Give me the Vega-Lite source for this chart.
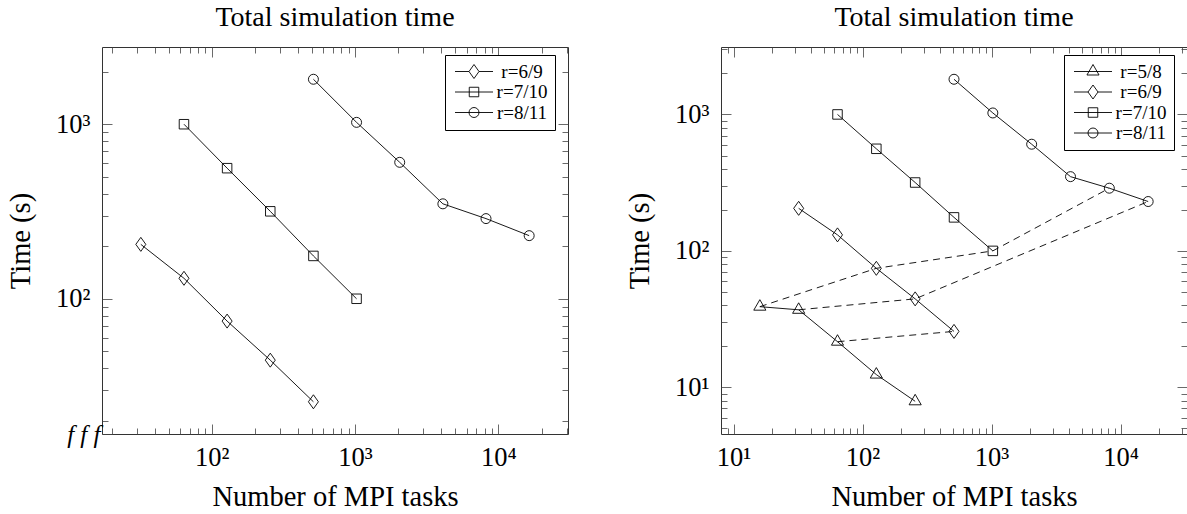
{
  "$schema": "https://vega.github.io/schema/vega-lite/v6.json",
  "padding": {"left": 6, "top": 3, "right": 0, "bottom": 0},
  "background": "white",
  "datasets": {
    "series": [
      {"r": "r=5/8", "tasks": 16, "time": 39},
      {"r": "r=5/8", "tasks": 32, "time": 37},
      {"r": "r=5/8", "tasks": 64, "time": 21.6},
      {"r": "r=5/8", "tasks": 128, "time": 12.4},
      {"r": "r=5/8", "tasks": 256, "time": 7.9},
      {"r": "r=6/9", "tasks": 32, "time": 205},
      {"r": "r=6/9", "tasks": 64, "time": 131},
      {"r": "r=6/9", "tasks": 128, "time": 74.5},
      {"r": "r=6/9", "tasks": 256, "time": 44.5},
      {"r": "r=6/9", "tasks": 512, "time": 25.7},
      {"r": "r=7/10", "tasks": 64, "time": 1000},
      {"r": "r=7/10", "tasks": 128, "time": 560},
      {"r": "r=7/10", "tasks": 256, "time": 317},
      {"r": "r=7/10", "tasks": 512, "time": 176},
      {"r": "r=7/10", "tasks": 1024, "time": 100},
      {"r": "r=8/11", "tasks": 512, "time": 1810},
      {"r": "r=8/11", "tasks": 1024, "time": 1025},
      {"r": "r=8/11", "tasks": 2048, "time": 605},
      {"r": "r=8/11", "tasks": 4096, "time": 350},
      {"r": "r=8/11", "tasks": 8192, "time": 288},
      {"r": "r=8/11", "tasks": 16384, "time": 230}
    ],
    "dashed": [
      {"g": "a", "tasks": 16, "time": 39},
      {"g": "a", "tasks": 128, "time": 74.5},
      {"g": "a", "tasks": 1024, "time": 100},
      {"g": "a", "tasks": 8192, "time": 288},
      {"g": "b", "tasks": 32, "time": 37},
      {"g": "b", "tasks": 256, "time": 44.5},
      {"g": "b", "tasks": 16384, "time": 230},
      {"g": "c", "tasks": 64, "time": 21.6},
      {"g": "c", "tasks": 512, "time": 25.7}
    ]
  },
  "spacing": 56,
  "hconcat": [
    {
      "width": 466,
      "height": 387,
      "title": {"text": "Total simulation time"},
      "layer": [
        {
          "data": {"name": "series"},
          "transform": [{"filter": "datum.r !== 'r=5/8'"}],
          "mark": {"type": "line", "color": "black", "strokeWidth": 0.9},
          "encoding": {
            "x": {"field": "tasks", "type": "quantitative", "scale": {"type": "log", "domain": [17.15, 30576], "nice": false, "zero": false},
              "axis": {"orient": "bottom", "title": "Number of MPI tasks",
                "values": [20,30,40,50,60,70,80,90,100,200,300,400,500,600,700,800,900,1000,2000,3000,4000,5000,6000,7000,8000,9000,10000,20000,30000],
                "labelExpr": "datum.value == 100 ? '10²' : datum.value == 1000 ? '10³' : datum.value == 10000 ? '10⁴' : ''",
                "tickSize": {"condition": {"test": "datum.value == 100 || datum.value == 1000 || datum.value == 10000", "value": -10}, "value": -6},
                "labelFontSize": {"condition": {"test": "datum.value == 100 || datum.value == 1000 || datum.value == 10000", "value": 26.5}, "value": 0},
                "labelPadding": 20.5}},
            "y": {"field": "time", "type": "quantitative", "scale": {"type": "log", "domain": [16.8, 2770], "nice": false, "zero": false},
              "axis": {"orient": "left", "title": "Time (s)",
                "values": [16.8,20,30,40,50,60,70,80,90,100,200,300,400,500,600,700,800,900,1000,2000],
                "labelExpr": "datum.value < 17 ? 'f f f' : datum.value == 100 ? '10²' : datum.value == 1000 ? '10³' : ''",
                "tickSize": {"condition": {"test": "datum.value < 17 || datum.value == 100 || datum.value == 1000", "value": -10}, "value": -6},
                "labelPadding": {"condition": {"test": "datum.value < 17", "value": 12}, "value": 22},
                "labelFontStyle": {"condition": {"test": "datum.value < 17", "value": "italic"}, "value": "normal"},
                "labelFontSize": {"condition": [{"test": "datum.value < 17", "value": 25}, {"test": "datum.value == 100 || datum.value == 1000", "value": 26.5}], "value": 0}}},
            "detail": {"field": "r"}
          }
        },
        {
          "data": {"name": "series"},
          "transform": [{"filter": "datum.r !== 'r=5/8'"}],
          "mark": {"type": "point", "opacity": 0},
          "encoding": {
            "x": {"field": "tasks", "type": "quantitative", "scale": {"type": "log", "domain": [17.15, 30576], "nice": false, "zero": false},
              "axis": {"orient": "top", "title": null, "labels": false,
                "values": [20,30,40,50,60,70,80,90,100,200,300,400,500,600,700,800,900,1000,2000,3000,4000,5000,6000,7000,8000,9000,10000,20000,30000],
                "tickSize": {"condition": {"test": "datum.value == 100 || datum.value == 1000 || datum.value == 10000", "value": -10}, "value": -6}}},
            "y": {"field": "time", "type": "quantitative", "scale": {"type": "log", "domain": [16.8, 2770], "nice": false, "zero": false},
              "axis": {"orient": "right", "title": null, "labels": false,
                "values": [20,30,40,50,60,70,80,90,100,200,300,400,500,600,700,800,900,1000,2000],
                "tickSize": {"condition": {"test": "datum.value == 100 || datum.value == 1000", "value": -10}, "value": -6}}}
          }
        },
        {
          "data": {"name": "series"},
          "transform": [{"filter": "datum.r !== 'r=5/8'"}],
          "mark": {"type": "point", "filled": false, "color": "black", "strokeWidth": 0.9, "size": 100, "opacity": 1},
          "encoding": {
            "x": {"field": "tasks", "type": "quantitative", "axis": null},
            "y": {"field": "time", "type": "quantitative", "axis": null},
            "shape": {"field": "r", "type": "nominal", "legend": null,
              "scale": {"domain": ["r=6/9", "r=7/10", "r=8/11"],
                "range": ["M0,-1.4L1,0L0,1.4L-1,0Z", "M-0.95,-0.95H0.95V0.95H-0.95Z", "M1,0A1,1,0,1,1,-1,0A1,1,0,1,1,1,0Z"]}}
          }
        },
        {
          "data": {"name": "series"},
          "transform": [{"filter": "datum.r !== 'r=5/8'"}],
          "mark": {"type": "point", "filled": false, "color": "black", "strokeWidth": 0.9, "size": 100, "opacity": 0},
          "encoding": {
            "x": {"field": "tasks", "type": "quantitative", "axis": null},
            "y": {"field": "time", "type": "quantitative", "axis": null},
            "shape": {"field": "r", "type": "nominal",
              "scale": {"domain": ["r=6/9", "r=7/10", "r=8/11"],
                "range": ["M-3.8,0H-1M1,0H3.8M0,-1.4L1,0L0,1.4L-1,0Z", "M-3.8,0H3.8M-0.95,-0.95H0.95V0.95H-0.95Z", "M-3.8,0H3.8M1,0A1,1,0,1,1,-1,0A1,1,0,1,1,1,0Z"]},
              "legend": {"title": null, "orient": "none", "legendX": 343, "legendY": 8}}
          }
        }
      ],
      "resolve": {"scale": {"shape": "independent"}, "axis": {"x": "independent", "y": "independent"}, "legend": {"shape": "independent"}}
    },
    {
      "width": 466,
      "height": 387,
      "title": {"text": "Total simulation time"},
      "layer": [
        {
          "data": {"name": "dashed"},
          "mark": {"type": "line", "color": "black", "strokeWidth": 0.9, "strokeDash": [7, 5]},
          "encoding": {
            "x": {"field": "tasks", "type": "quantitative", "scale": {"type": "log", "domain": [8, 32768], "nice": false, "zero": false},
              "axis": {"orient": "bottom", "title": "Number of MPI tasks",
                "values": [9,10,20,30,40,50,60,70,80,90,100,200,300,400,500,600,700,800,900,1000,2000,3000,4000,5000,6000,7000,8000,9000,10000,20000,30000],
                "labelExpr": "datum.value == 10 ? '10¹' : datum.value == 100 ? '10²' : datum.value == 1000 ? '10³' : datum.value == 10000 ? '10⁴' : ''",
                "tickSize": {"condition": {"test": "datum.value == 10 || datum.value == 100 || datum.value == 1000 || datum.value == 10000", "value": -10}, "value": -6},
                "labelFontSize": {"condition": {"test": "datum.value == 10 || datum.value == 100 || datum.value == 1000 || datum.value == 10000", "value": 26.5}, "value": 0},
                "labelPadding": 20.5}},
            "y": {"field": "time", "type": "quantitative", "scale": {"type": "log", "domain": [4.55, 3120], "nice": false, "zero": false},
              "axis": {"orient": "left", "title": "Time (s)",
                "values": [5,6,7,8,9,10,20,30,40,50,60,70,80,90,100,200,300,400,500,600,700,800,900,1000,2000,3000],
                "labelExpr": "datum.value == 10 ? '10¹' : datum.value == 100 ? '10²' : datum.value == 1000 ? '10³' : ''",
                "tickSize": {"condition": {"test": "datum.value == 10 || datum.value == 100 || datum.value == 1000", "value": -10}, "value": -6},
                "labelFontSize": {"condition": {"test": "datum.value == 10 || datum.value == 100 || datum.value == 1000", "value": 26.5}, "value": 0},
                "labelPadding": 22}},
            "detail": {"field": "g"}
          }
        },
        {
          "data": {"name": "series"},
          "mark": {"type": "line", "color": "black", "strokeWidth": 0.9},
          "encoding": {
            "x": {"field": "tasks", "type": "quantitative", "scale": {"type": "log", "domain": [8, 32768], "nice": false, "zero": false},
              "axis": {"orient": "top", "title": null, "labels": false,
                "values": [9,10,20,30,40,50,60,70,80,90,100,200,300,400,500,600,700,800,900,1000,2000,3000,4000,5000,6000,7000,8000,9000,10000,20000,30000],
                "tickSize": {"condition": {"test": "datum.value == 10 || datum.value == 100 || datum.value == 1000 || datum.value == 10000", "value": -10}, "value": -6}}},
            "y": {"field": "time", "type": "quantitative", "scale": {"type": "log", "domain": [4.55, 3120], "nice": false, "zero": false},
              "axis": {"orient": "right", "title": null, "labels": false,
                "values": [5,6,7,8,9,10,20,30,40,50,60,70,80,90,100,200,300,400,500,600,700,800,900,1000,2000,3000],
                "tickSize": {"condition": {"test": "datum.value == 10 || datum.value == 100 || datum.value == 1000", "value": -10}, "value": -6}}},
            "detail": {"field": "r"}
          }
        },
        {
          "data": {"name": "series"},
          "mark": {"type": "point", "filled": false, "color": "black", "strokeWidth": 0.9, "size": 100, "opacity": 1},
          "encoding": {
            "x": {"field": "tasks", "type": "quantitative", "axis": null},
            "y": {"field": "time", "type": "quantitative", "axis": null},
            "shape": {"field": "r", "type": "nominal", "legend": null,
              "scale": {"domain": ["r=5/8", "r=6/9", "r=7/10", "r=8/11"],
                "range": ["M0,-1.4L1.212,0.7L-1.212,0.7Z", "M0,-1.4L1,0L0,1.4L-1,0Z", "M-0.95,-0.95H0.95V0.95H-0.95Z", "M1,0A1,1,0,1,1,-1,0A1,1,0,1,1,1,0Z"]}}
          }
        },
        {
          "data": {"name": "series"},
          "mark": {"type": "point", "filled": false, "color": "black", "strokeWidth": 0.9, "size": 100, "opacity": 0},
          "encoding": {
            "x": {"field": "tasks", "type": "quantitative", "axis": null},
            "y": {"field": "time", "type": "quantitative", "axis": null},
            "shape": {"field": "r", "type": "nominal",
              "scale": {"domain": ["r=5/8", "r=6/9", "r=7/10", "r=8/11"],
                "range": ["M-3.8,0H3.8M0,-1.4L1.212,0.7L-1.212,0.7Z", "M-3.8,0H-1M1,0H3.8M0,-1.4L1,0L0,1.4L-1,0Z", "M-3.8,0H3.8M-0.95,-0.95H0.95V0.95H-0.95Z", "M-3.8,0H3.8M1,0A1,1,0,1,1,-1,0A1,1,0,1,1,1,0Z"]},
              "legend": {"title": null, "orient": "none", "legendX": 343, "legendY": 8}}
          }
        }
      ],
      "resolve": {"scale": {"shape": "independent"}, "axis": {"x": "independent", "y": "independent"}, "legend": {"shape": "independent"}}
    }
  ],
  "config": {
    "view": {"stroke": "#333", "strokeWidth": 1},
    "font": "Liberation Serif",
    "title": {"font": "Liberation Serif", "fontSize": 28, "fontWeight": "normal", "color": "black", "anchor": "middle", "offset": 15},
    "axis": {
      "domain": false, "grid": false, "labelOverlap": false, "labelFlush": false, "labelBound": false, "minExtent": 0,
      "labelFont": "Liberation Serif", "labelFontSize": 26.5, "labelColor": "black",
      "titleFont": "Liberation Serif", "titleFontSize": 28.5, "titleFontWeight": "normal", "titleColor": "black",
      "tickColor": "#444", "tickWidth": 0.8
    },
    "axisX": {"titlePadding": 11},
    "axisY": {"titlePadding": 20},
    "legend": {
      "strokeColor": "black", "fillColor": "white", "padding": 7, "cornerRadius": 0,
      "labelFont": "Liberation Serif", "labelFontSize": 19, "labelColor": "black", "labelAlign": "center", "labelOffset": 38.5,
      "symbolSize": 100, "symbolStrokeColor": "black", "symbolFillColor": "transparent", "symbolStrokeWidth": 0.9, "symbolOpacity": 1,
      "symbolOffset": 12.5, "rowPadding": 0.5
    }
  }
}
